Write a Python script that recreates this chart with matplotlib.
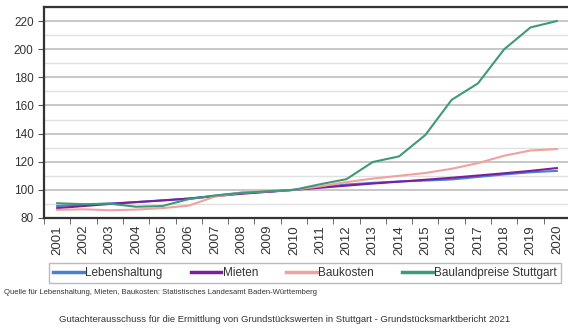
import numpy as np
import matplotlib
matplotlib.use("Agg")
import matplotlib.pyplot as plt
from matplotlib.ticker import MultipleLocator, FixedLocator

plt.rcParams['font.family'] = ['Liberation Sans', 'DejaVu Sans']

years = [str(y) for y in range(2001, 2021)]

# Indexwerte (2010 = 100)
lebenshaltung = [88.5, 89.5, 90.3, 91.3, 92.5, 93.8, 95.8, 98.0, 98.6, 100.0,
                 102.0, 103.8, 105.0, 106.0, 106.6, 107.4, 109.2, 111.0, 112.5, 113.5]
mieten = [87.0, 88.5, 90.0, 91.3, 92.5, 93.8, 95.5, 97.2, 98.6, 100.0,
          101.5, 103.0, 104.5, 105.8, 107.2, 108.6, 110.2, 111.8, 113.5, 115.5]
baukosten = [85.8, 86.2, 85.5, 86.0, 87.0, 88.8, 95.2, 98.0, 99.0, 100.0,
             102.5, 105.5, 108.0, 110.0, 112.0, 115.0, 119.0, 124.3, 128.0, 129.0]
bauland = [90.5, 89.8, 90.2, 88.0, 88.5, 93.4, 96.0, 97.8, 99.0, 100.0,
           104.0, 107.6, 119.8, 123.8, 139.0, 164.0, 175.7, 200.0, 215.5, 220.0]

series = [
    ("Lebenshaltung", lebenshaltung, "#4a7fd6"),
    ("Mieten", mieten, "#7b1f9a"),
    ("Baukosten", baukosten, "#f2a19c"),
    ("Baulandpreise Stuttgart", bauland, "#3d9a78"),
]

fig = plt.figure(figsize=(5.68, 3.30), dpi=100)
ax = fig.add_axes([44 / 568, 1 - 218 / 330, 526 / 568, 211 / 330])

x = np.arange(len(years))
for name, vals, col in series:
    ax.plot(x, vals, color=col, linewidth=1.5, label=name)

ax.set_xlim(-0.5, len(years) - 0.5)
ax.set_ylim(80, 230)
ax.yaxis.set_major_locator(FixedLocator(range(80, 221, 20)))
ax.yaxis.set_minor_locator(MultipleLocator(10))
ax.grid(axis='y', which='major', color='#bdbdbd', linewidth=1.2)
ax.grid(axis='y', which='minor', color='#e0e0e0', linewidth=1.0)
ax.set_axisbelow(True)

ax.set_xticks(x)
ax.set_xticklabels(years, rotation=90, fontsize=9.5, color='#333333')
ax.xaxis.set_minor_locator(FixedLocator(np.arange(-0.5, len(years), 1)))
ax.tick_params(axis='x', which='major', length=0, pad=5)
ax.tick_params(axis='x', which='minor', length=4, color='#555555', direction='out')
ax.tick_params(axis='y', which='major', labelsize=8.5, labelcolor='#333333', length=4, color='#555555')
ax.tick_params(axis='y', which='minor', length=0)

for side in ['left', 'bottom', 'top']:
    ax.spines[side].set_color('#333333')
    ax.spines[side].set_linewidth(1.6)
ax.spines['right'].set_visible(False)

leg = fig.legend(loc='center', bbox_to_anchor=(305 / 568, 1 - 273 / 330), ncol=4,
                 fontsize=8.5, frameon=True, fancybox=False, handlelength=2.6,
                 handletextpad=0.1, columnspacing=2.4, borderpad=0.35)
leg.get_frame().set_edgecolor('#aaaaaa')
leg.get_frame().set_linewidth(1.0)
for line in leg.get_lines():
    line.set_linewidth(2.5)
for t in leg.get_texts():
    t.set_color('#333333')

fig.text(4 / 568, 1 - 292 / 330, "Quelle für Lebenshaltung, Mieten, Baukosten: Statistisches Landesamt Baden-Württemberg",
         fontsize=5.5, color='#333333', va='center', ha='left')
fig.text(285 / 568, 1 - 320 / 330,
         "Gutachterausschuss für die Ermittlung von Grundstückswerten in Stuttgart - Grundstücksmarktbericht 2021",
         fontsize=6.8, color='#333333', va='center', ha='center')

fig.savefig("out.png", dpi=100)
